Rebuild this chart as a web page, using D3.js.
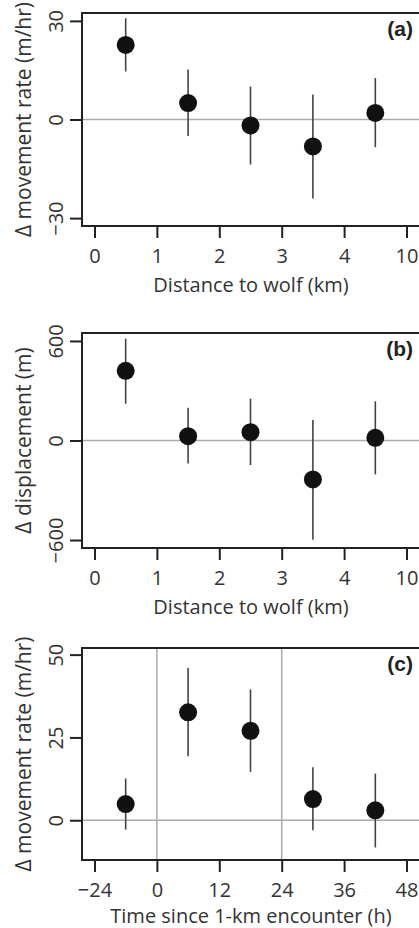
<!DOCTYPE html>
<html lang="en">
<head>
<meta charset="utf-8">
<script src="https://d3js.org/d3.v7.min.js"></script>
<style>
  body { margin: 0; background: #fff; }
  text { font-family: "Open Sans", "Noto Sans", sans-serif; fill: #333; }
  .tag { font-family: "Liberation Sans", Arial, sans-serif; font-weight: bold; fill: #222; }
</style>
</head>
<body>
<script>
// distance panels (a) and (b): bins at axis positions 0..5
var distTicks = [0, 1, 2, 3, 4, 5];
var distLabels = ["0", "1", "2", "3", "4", "10"];
var distX = [0.5, 1.5, 2.5, 3.5, 4.5];

var rateMean = [22.7, 5.0, -1.8, -8.2, 2.0];
var rateLo   = [14.6, -5.0, -13.7, -24.0, -8.4];
var rateHi   = [30.8, 15.2, 10.0, 7.6, 12.6];
var rateTicks = [-30, 0, 30];

var dispMean = [420, 26, 50, -235, 16];
var dispLo   = [222, -139, -148, -598, -204];
var dispHi   = [614, 198, 252, 123, 236];
var dispTicks = [-600, 0, 600];

// time panel (c): same bin positions, hour labels
var timeTicks = [0, 1, 2, 3, 4, 5];
var timeLabels = ["\u221224", "0", "12", "24", "36", "48"];
var timeX = [0.5, 1.5, 2.5, 3.5, 4.5];
var timeMean = [4.9, 32.6, 27.0, 6.4, 3.0];
var timeLo   = [-2.8, 19.3, 14.6, -3.0, -8.2];
var timeHi   = [12.6, 46.0, 39.5, 16.0, 14.1];
var timeYTicks = [0, 25, 50];
var timeVLines = [1, 3]; // hour 0 and hour 24

var W = 419, H = 928;
var svg = d3.select("body").append("svg")
    .attr("width", W)
    .attr("height", H);

function panel(p) {
  var g = svg.append("g");
  var x = d3.scaleLinear().domain([-0.2, 5.2]).range([82, 419]);
  var y = d3.scaleLinear().domain(p.yDomain).range([p.bottom, p.top]);

  // grey reference lines
  g.append("line")
    .attr("x1", 82).attr("x2", 420)
    .attr("y1", y(0)).attr("y2", y(0))
    .attr("stroke", "#aaa").attr("stroke-width", 1.5);
  (p.vlines || []).forEach(function(v) {
    g.append("line")
      .attr("x1", x(v)).attr("x2", x(v))
      .attr("y1", p.top).attr("y2", p.bottom)
      .attr("stroke", "#aaa").attr("stroke-width", 1.5);
  });

  // error bars
  g.selectAll(".err")
    .data(p.xs)
    .enter().append("line")
    .attr("class", "err")
    .attr("x1", function(d) { return x(d); })
    .attr("x2", function(d) { return x(d); })
    .attr("y1", function(d, i) { return y(p.lo[i]); })
    .attr("y2", function(d, i) { return y(p.hi[i]); })
    .attr("stroke", "#444").attr("stroke-width", 1.6);

  // points
  g.selectAll(".pt")
    .data(p.xs)
    .enter().append("circle")
    .attr("class", "pt")
    .attr("cx", function(d) { return x(d); })
    .attr("cy", function(d, i) { return y(p.mean[i]); })
    .attr("r", 9)
    .attr("fill", "#111");

  // box (right side runs off the page)
  g.append("rect")
    .attr("x", 82).attr("y", p.top)
    .attr("width", 340).attr("height", p.bottom - p.top)
    .attr("fill", "none").attr("stroke", "#222").attr("stroke-width", 2);

  // x axis
  var xAxis = d3.axisBottom(x)
    .tickValues(p.xTicks)
    .tickFormat(function(d, i) { return p.xLabels[i]; })
    .tickSizeOuter(0).tickSizeInner(12).tickPadding(11);
  var gx = g.append("g")
    .attr("transform", "translate(0," + p.bottom + ")")
    .call(xAxis);
  gx.select(".domain").remove();
  gx.selectAll(".tick line").attr("stroke", "#222").attr("stroke-width", 2);
  gx.selectAll(".tick text").style("font-size", "20px").style("font-family", null).attr("fill", "#333");

  // y axis
  var yAxis = d3.axisLeft(y)
    .tickValues(p.yTicks)
    .tickFormat(function(d) { return String(d).replace("-", "\u2212"); })
    .tickSizeOuter(0).tickSizeInner(12).tickPadding(6);
  var gy = g.append("g")
    .attr("transform", "translate(82,0)")
    .call(yAxis);
  gy.select(".domain").remove();
  gy.selectAll(".tick line").attr("stroke", "#222").attr("stroke-width", 2);
  gy.selectAll(".tick text")
    .style("font-size", "20px").style("font-family", null).attr("fill", "#333")
    .attr("text-anchor", "middle")
    .attr("x", 0).attr("dy", 0)
    .attr("transform", "translate(-19,0) rotate(-90)");

  // axis titles
  g.append("text")
    .attr("x", 251).attr("y", p.bottom + p.titleGap)
    .attr("text-anchor", "middle")
    .style("font-size", "20px")
    .text(p.xTitle);
  g.append("text")
    .attr("transform", "translate(31," + ((p.top + p.bottom) / 2) + ") rotate(-90)")
    .attr("text-anchor", "middle")
    .style("font-size", "21px")
    .text(p.yTitle);

  // panel tag
  g.append("text")
    .attr("class", "tag")
    .attr("x", 413).attr("y", p.top + 23)
    .attr("text-anchor", "end")
    .style("font-size", "21px")
    .text(p.tag);
}

panel({
  top: 13, bottom: 226, titleGap: 66,
  yDomain: [-32.4, 32.4],
  xTicks: distTicks, xLabels: distLabels, yTicks: rateTicks,
  xs: distX, mean: rateMean, lo: rateLo, hi: rateHi,
  xTitle: "Distance to wolf (km)", yTitle: "\u0394 movement rate (m/hr)", tag: "(a)"
});

panel({
  top: 333, bottom: 548, titleGap: 66,
  yDomain: [-648, 648],
  xTicks: distTicks, xLabels: distLabels, yTicks: dispTicks,
  xs: distX, mean: dispMean, lo: dispLo, hi: dispHi,
  xTitle: "Distance to wolf (km)", yTitle: "\u0394 displacement (m)", tag: "(b)"
});

panel({
  top: 648, bottom: 860, titleGap: 63,
  yDomain: [-12, 52],
  xTicks: timeTicks, xLabels: timeLabels, yTicks: timeYTicks, vlines: timeVLines,
  xs: timeX, mean: timeMean, lo: timeLo, hi: timeHi,
  xTitle: "Time since 1-km encounter (h)", yTitle: "\u0394 movement rate (m/hr)", tag: "(c)"
});
</script>
</body>
</html>
